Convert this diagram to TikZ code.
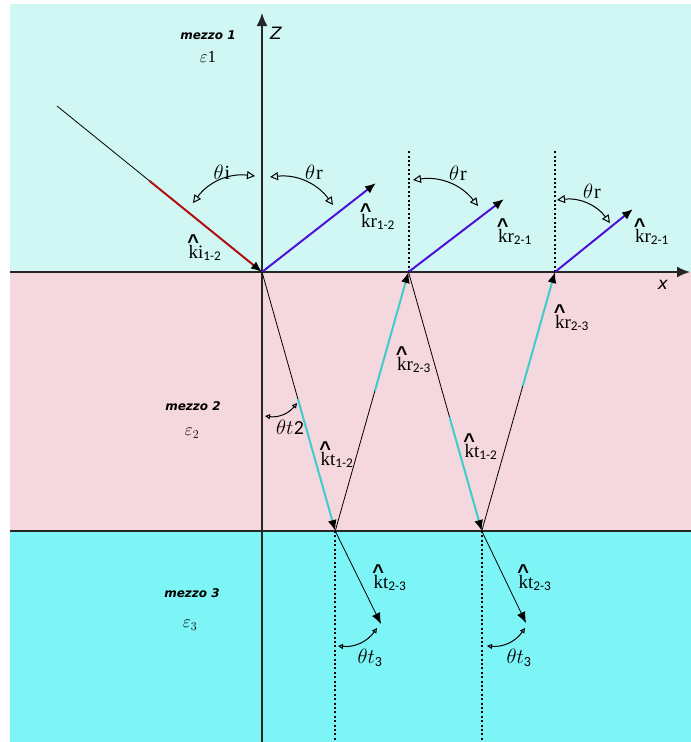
\documentclass[tikz,border=0pt]{standalone}
\usepackage{amsmath}
\usepackage{fontspec}
\setmainfont{Liberation Serif}
\newfontfamily\mezfont{DejaVu Sans}
\newfontfamily\axfont{DejaVu Sans}
\newfontfamily\hatfont{Liberation Sans}
\newfontfamily\subfont{Carlito}
\usetikzlibrary{arrows.meta,calc}
\definecolor{topc}{HTML}{D0F7F3}
\definecolor{midc}{HTML}{F5D7DE}
\definecolor{botc}{HTML}{7DF5F7}
\definecolor{redray}{HTML}{B01010}
\definecolor{purp}{HTML}{5010D8}
\definecolor{cyray}{HTML}{40CCCC}
\newcommand\myKhat{\leavevmode\rlap{\hspace{-1.1pt}\raisebox{9.5pt}{\hatfont\bfseries\fontsize{20}{20}\selectfont\textasciicircum}}k}
\newcommand\mysub[1]{$_{\text{\subfont #1}}$}
\tikzset{
  ray/.style={line width=0.8pt, draw=black},
  axisline/.style={line width=1.6pt, draw=black!85},
  axtip/.style={-{Latex[length=13pt,width=11pt]}},
  cyseg/.style={line width=2pt, draw=cyray, -{Latex[length=11pt,width=9pt,color=black]}},
  purpseg/.style={line width=2pt, draw=purp, -{Latex[length=11pt,width=9pt,color=black]}},
  redseg/.style={line width=2pt, draw=redray, -{Latex[length=11pt,width=9pt,color=black]}},
  blktip/.style={line width=0.8pt, draw=black, -{Latex[length=11pt,width=9pt]}},
  angarc/.style={line width=1pt, {Triangle[open,length=8pt,width=8pt]}-{Triangle[open,length=8pt,width=8pt]}},
  smallarc/.style={line width=1pt, {Triangle[open,length=5pt,width=5pt]}-{Triangle[open,length=5pt,width=5pt]}},
  dotline/.style={line width=2pt, dash pattern=on 2pt off 2.4pt},
  lab/.style={font=\fontsize{19}{21}\selectfont, inner sep=0pt},
  thlab/.style={font=\fontsize{20}{22}\selectfont, inner sep=0pt},
  mez/.style={font=\mezfont\bfseries\itshape\fontsize{12}{14}\selectfont, inner sep=0pt},
  eps/.style={font=\fontsize{17}{19}\selectfont, inner sep=0pt},
  axlab/.style={font=\axfont\itshape\fontsize{17}{19}\selectfont, inner sep=0pt},
}
\begin{document}
\begin{tikzpicture}[x=1pt,y=-1pt]
\useasboundingbox (0,0) rectangle (691,742);
% media
\fill[topc] (10,4) rectangle (691,272);
\fill[midc] (10,272) rectangle (691,531);
\fill[botc] (10,531) rectangle (691,742);
% key points
\coordinate (O) at (262,272);
\coordinate (B1) at (335.25,531);
\coordinate (T2) at (408.5,272);
\coordinate (B2) at (481.75,531);
\coordinate (T3) at (555,272);
\coordinate (Ztop) at (262,13);
\coordinate (Zbot) at (262,742);
\coordinate (Xl) at (10,272);
\coordinate (Xr) at (690,272);
\coordinate (Ll) at (10,531);
\coordinate (Lr) at (691,531);
% axes and interfaces
\draw[axisline] (Ll) -- (Lr);
\draw[axisline,axtip] (Xl) -- (Xr);
\draw[axisline,axtip] (Zbot) -- (Ztop);
% dotted normals
\coordinate (N2) at (408.5,150);
\coordinate (N3) at (555,150);
\coordinate (M1) at (335.25,742);
\coordinate (M2) at (481.75,742);
\draw[dotline] (T2) -- (N2);
\draw[dotline] (T3) -- (N3);
\draw[dotline] (B1) -- (M1);
\draw[dotline] (B2) -- (M2);
% incident ray
\coordinate (S) at (57,106);
\draw[ray] (S) -- ($(S)!0.45!(O)$) coordinate (Sred);
\draw[redseg] (Sred) -- (O);
% reflected rays in medium 1
\coordinate (R1) at (376,183);
\coordinate (R2) at (504,199);
\coordinate (R3) at (633,209);
\draw[purpseg] (O) -- (R1);
\draw[purpseg] (T2) -- (R2);
\draw[purpseg] (T3) -- (R3);
% rays in medium 2
\draw[ray] (O) -- ($(O)!0.49!(B1)$) coordinate (c1);
\draw[cyseg] (c1) -- (B1);
\draw[ray] (B1) -- ($(B1)!0.54!(T2)$) coordinate (c2);
\draw[cyseg] (c2) -- (T2);
\draw[ray] (T2) -- ($(T2)!0.56!(B2)$) coordinate (c3);
\draw[cyseg] (c3) -- (B2);
\draw[ray] (B2) -- ($(B2)!0.56!(T3)$) coordinate (c4);
\draw[cyseg] (c4) -- (T3);
% transmitted rays in medium 3
\coordinate (D1) at (381,624);
\coordinate (D2) at (526,623);
\draw[blktip] (B1) -- (D1);
\draw[blktip] (B2) -- (D2);
% angle arcs
\coordinate (ai1) at (193,203); \coordinate (ai2) at (255,176);
\coordinate (ar1) at (270,177); \coordinate (ar2) at (333,205);
\coordinate (br1) at (413,180); \coordinate (br2) at (478,206);
\coordinate (cr1) at (557,200); \coordinate (cr2) at (610,223);
\coordinate (at1) at (265,416); \coordinate (at2) at (297,403);
\coordinate (bt1) at (338,646); \coordinate (bt2) at (377,628);
\coordinate (ct1) at (487,646); \coordinate (ct2) at (525,628);
\draw[angarc] (ai1) to[bend left=30] (ai2);
\draw[angarc] (ar1) to[bend left=30] (ar2);
\draw[angarc] (br1) to[bend left=30] (br2);
\draw[angarc] (cr1) to[bend left=30] (cr2);
\draw[smallarc] (at1) to[bend right=30] (at2);
\draw[smallarc] (bt1) to[bend right=30] (bt2);
\draw[smallarc] (ct1) to[bend right=30] (ct2);
% labels
\node[axlab] (zl) at (276,33) {Z};
\node[axlab] (xl) at (663,285) {x};
\node[mez] (m1) at (208,35) {mezzo 1};
\node[eps] (e1) at (208,57) {$\varepsilon$1};
\node[mez] (m2) at (193,406) {mezzo 2};
\node[eps] (e2) at (192,433) {$\varepsilon_2$};
\node[mez] (m3) at (192,593) {mezzo 3};
\node[eps] (e3) at (190,625) {$\varepsilon_3$};
\node[thlab] (thi) at (222,172) {$\theta$\kern1pt i};
\node[thlab] (thr1) at (314,172) {$\theta$\kern1pt r};
\node[thlab] (thr2) at (458,173) {$\theta$\kern1pt r};
\node[thlab] (thr3) at (592,191) {$\theta$\kern1pt r};
\node[thlab] (tht2) at (290,427) {$\theta t$\kern0.5pt{\subfont 2}};
\node[thlab] (tht3a) at (370,658) {$\theta t$\mysub{3}};
\node[thlab] (tht3b) at (519,658) {$\theta t$\mysub{3}};
\node[lab] (ki) at (205,248) {\myKhat i\mysub{1-2}};
\node[lab] (kr1) at (378,217) {\myKhat r\mysub{1-2}};
\node[lab] (kr2) at (515,232) {\myKhat r\mysub{2-1}};
\node[lab] (kr3) at (652,232) {\myKhat r\mysub{2-1}};
\node[lab] (kr4) at (414,360) {\myKhat r\mysub{2-3}};
\node[lab] (kr5) at (572,318) {\myKhat r\mysub{2-3}};
\node[lab] (kt1) at (337,455) {\myKhat t\mysub{1-2}};
\node[lab] (kt2) at (481,447) {\myKhat t\mysub{1-2}};
\node[lab] (kt3) at (390,578) {\myKhat t\mysub{2-3}};
\node[lab] (kt4) at (535,578) {\myKhat t\mysub{2-3}};
\end{tikzpicture}
\end{document}
